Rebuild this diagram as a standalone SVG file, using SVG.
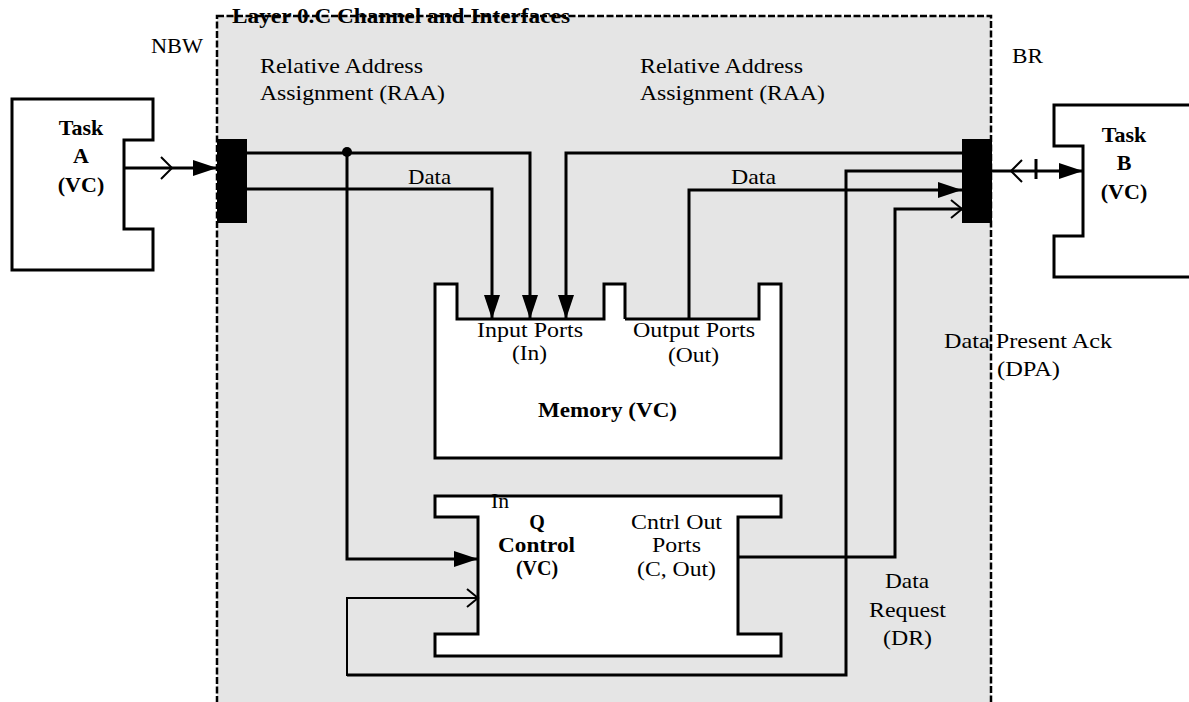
<svg xmlns="http://www.w3.org/2000/svg" width="1189" height="702" viewBox="0 0 1189 702">
  <style>
    text { font-family: "Liberation Serif", "Times New Roman", serif; font-size: 22px; fill: #000; }
    .b { font-weight: bold; }
    .c { text-anchor: middle; }
    .q { font-size: 20px; }
    .box { fill: #fff; stroke: #000; stroke-width: 3; }
    .ln { fill: none; stroke: #000; stroke-width: 3; }
    .thin { fill: none; stroke: #000; stroke-width: 2; }
    .chev { fill: none; stroke: #000; stroke-width: 2; }
  </style>
  <defs>
    <marker id="fa" markerUnits="userSpaceOnUse" markerWidth="25" markerHeight="16" refX="24" refY="8" orient="auto">
      <path d="M0,0 L24,8 L0,16 Z" fill="#000"/>
    </marker>
    <marker id="oa" markerUnits="userSpaceOnUse" markerWidth="14" markerHeight="20" refX="12" refY="10" orient="auto">
      <path d="M1,1 L12,10 L1,19" fill="none" stroke="#000" stroke-width="2"/>
    </marker>
  </defs>
  <rect x="0" y="0" width="1189" height="702" fill="#fff"/>

  <g id="layer">
    <rect x="217" y="16" width="774" height="700" fill="#e5e5e5"/>
    <text class="b" x="232" y="23" font-size="21" textLength="338" lengthAdjust="spacingAndGlyphs">Layer 0.C Channel and Interfaces</text>
    <rect x="217" y="16" width="774" height="700" fill="none" stroke="#000" stroke-width="2.5" stroke-dasharray="7 2.5"/>
  </g>

  <g id="labels">
    <text x="151" y="53" textLength="52" lengthAdjust="spacingAndGlyphs">NBW</text>
    <text x="1012" y="63" textLength="31" lengthAdjust="spacingAndGlyphs">BR</text>
    <text x="260" y="73" textLength="163" lengthAdjust="spacingAndGlyphs">Relative Address</text>
    <text x="260" y="100" textLength="185" lengthAdjust="spacingAndGlyphs">Assignment (RAA)</text>
    <text x="640" y="73" textLength="163" lengthAdjust="spacingAndGlyphs">Relative Address</text>
    <text x="640" y="100" textLength="185" lengthAdjust="spacingAndGlyphs">Assignment (RAA)</text>
    <text x="408" y="184" textLength="43" lengthAdjust="spacingAndGlyphs">Data</text>
    <text x="731" y="184" textLength="45" lengthAdjust="spacingAndGlyphs">Data</text>
    <text x="944" y="348" textLength="168" lengthAdjust="spacingAndGlyphs">Data Present Ack</text>
    <text x="997" y="376" textLength="63" lengthAdjust="spacingAndGlyphs">(DPA)</text>
    <text x="885" y="588" textLength="44" lengthAdjust="spacingAndGlyphs">Data</text>
    <text x="869" y="617" textLength="77" lengthAdjust="spacingAndGlyphs">Request</text>
    <text x="883" y="645" textLength="49" lengthAdjust="spacingAndGlyphs">(DR)</text>
  </g>

  <g id="taskA">
    <path class="box" d="M12,99 H153 V140 H124 V229 H153 V270 H12 Z"/>
    <text class="b c" x="81" y="135">Task</text>
    <text class="b c" x="81" y="163">A</text>
    <text class="b c" x="81" y="192">(VC)</text>
  </g>

  <g id="taskB">
    <path class="box" d="M1195,105 H1054 V146 H1083 V236 H1054 V277 H1195"/>
    <text class="b c" x="1124" y="142">Task</text>
    <text class="b c" x="1124" y="170">B</text>
    <text class="b c" x="1124" y="199">(VC)</text>
  </g>

  <g id="nbw">
    <rect x="217" y="139" width="30" height="84" fill="#000"/>
  </g>

  <g id="br">
    <rect x="962" y="139" width="30" height="84" fill="#000"/>
  </g>

  <g id="memory">
    <path d="M435,284 H457 V319 H604 V284 H625 V319 H759 V284 H781 V458 H435 Z" fill="#fff"/>
    <path class="ln" d="M625,319 H759 V284 H781 V458 H435 V284 H457 V319 H604 V284 H625 V319"/>
    <text x="477" y="337" textLength="106" lengthAdjust="spacingAndGlyphs">Input Ports</text>
    <text x="512" y="360" textLength="35" lengthAdjust="spacingAndGlyphs">(In)</text>
    <text x="633" y="337" textLength="122" lengthAdjust="spacingAndGlyphs">Output Ports</text>
    <text x="668" y="362" textLength="51" lengthAdjust="spacingAndGlyphs">(Out)</text>
    <text class="b" x="538" y="417" textLength="139" lengthAdjust="spacingAndGlyphs">Memory (VC)</text>
  </g>

  <g id="qcontrol">
    <path class="box" d="M435,496 H781 V517 H738 V634 H781 V656 H435 V634 H478 V517 H435 Z"/>
    <text x="491" y="508" font-size="18" textLength="18" lengthAdjust="spacingAndGlyphs">In</text>
    <text class="b c q" x="537" y="529">Q</text>
    <text class="b q" x="498" y="552" textLength="77" lengthAdjust="spacingAndGlyphs">Control</text>
    <text class="b c q" x="537" y="575">(VC)</text>
    <text x="631" y="529" textLength="91" lengthAdjust="spacingAndGlyphs">Cntrl Out</text>
    <text x="652" y="552" textLength="49" lengthAdjust="spacingAndGlyphs">Ports</text>
    <text x="637" y="576" textLength="79" lengthAdjust="spacingAndGlyphs">(C, Out)</text>
  </g>

  <g id="connectors">
    <path class="ln" d="M124,168 H217" marker-end="url(#fa)"/>
    <path class="chev" d="M161,157 L172,168 L161,179"/>
    <path class="ln" d="M247,153 H530 V319" marker-end="url(#fa)"/>
    <path class="ln" d="M247,189 H492 V319" marker-end="url(#fa)"/>
    <path class="ln" d="M347,153 V559 H478" marker-end="url(#fa)"/>
    <circle cx="347" cy="152" r="5" fill="#000"/>
    <path class="ln" d="M962,153 H566 V319" marker-end="url(#fa)"/>
    <path class="ln" d="M689,319 V190 H962" marker-end="url(#fa)"/>
    <path class="ln" d="M962,171 H846 V675 H347"/>
    <path class="thin" d="M347,676 V598 H478" marker-end="url(#oa)"/>
    <path class="ln" d="M738,557 H895 V209 H962" marker-end="url(#oa)"/>
    <path class="ln" d="M992,171 H1083" marker-end="url(#fa)"/>
    <path class="chev" d="M1022,160 L1011,171 L1022,182"/>
    <path class="ln" d="M1036,159 V179"/>
  </g>
</svg>
